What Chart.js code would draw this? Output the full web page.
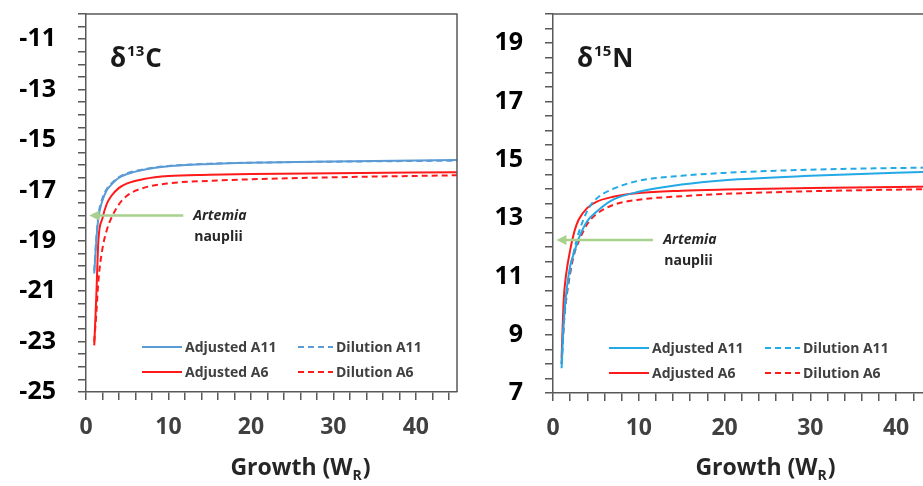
<!DOCTYPE html>
<html>
<head>
<meta charset="utf-8">
<script src="https://cdn.jsdelivr.net/npm/chart.js@4.4.1/dist/chart.umd.min.js"></script>
<style>
  html, body { margin: 0; padding: 0; background: #fff; overflow: hidden; }
  body { width: 923px; height: 486px; position: relative; }
  .panel { position: absolute; top: 0; }
  #left { left: 0; }
  #right { left: 470px; }
</style>
</head>
<body>
<div class="panel" id="left"><canvas id="chartC" width="470" height="486"></canvas></div>
<div class="panel" id="right"><canvas id="chartN" width="480" height="486"></canvas></div>
<script>
// growth (W_R) values where the curves were read
const growth = [1, 1.25, 1.5, 2, 2.5, 3, 4, 5, 7, 10, 15, 20, 30, 45];

// delta 13C panel
const adjA11C = [-20.3, -19.0, -18.1, -17.4, -17.0, -16.8, -16.5, -16.35, -16.18, -16.04, -15.95, -15.9, -15.85, -15.79];
const dilA11C = [-20.2, -18.9, -18.0, -17.3, -16.95, -16.75, -16.47, -16.32, -16.16, -16.03, -15.94, -15.9, -15.86, -15.82];
const adjA6C = [-23.15, -21.2, -19.0, -18.1, -17.55, -17.25, -16.9, -16.72, -16.55, -16.43, -16.38, -16.35, -16.32, -16.28];
const dilA6C = [-23.0, -21.9, -20.6, -19.3, -18.6, -18.15, -17.55, -17.2, -16.9, -16.72, -16.62, -16.56, -16.48, -16.4];

// delta 15N panel
const adjA11N = [7.85, 9.4, 10.3, 11.35, 11.85, 12.3, 12.9, 13.2, 13.63, 13.9, 14.15, 14.3, 14.45, 14.6];
const dilA11N = [8.0, 9.4, 10.2, 11.2, 11.95, 12.5, 13.25, 13.65, 14.0, 14.28, 14.45, 14.55, 14.66, 14.74];
const adjA6N = [8.2, 10.2, 11.0, 11.9, 12.55, 12.95, 13.35, 13.55, 13.73, 13.86, 13.94, 13.98, 14.03, 14.08];
const dilA6N = [8.0, 9.3, 10.1, 11.1, 11.8, 12.2, 12.8, 13.12, 13.45, 13.63, 13.75, 13.83, 13.92, 14.0];

const seriesNames = ['Adjusted A11', 'Dilution A11', 'Adjusted A6', 'Dilution A6'];
const xLabels = [0, 10, 20, 30, 40];

const FONT = '"Open Sans", Lato, sans-serif';
const AXIS = '#595959';

function pts(arr) {
  return growth.map((g, i) => ({ x: g, y: arr[i] }));
}

function makeDatasets(series, blue) {
  const red = '#ff1a1a';
  const cols = [blue, blue, red, red];
  return series.map((arr, i) => ({
    label: seriesNames[i],
    data: pts(arr),
    borderColor: cols[i],
    borderWidth: 2,
    borderDash: i % 2 ? [6, 4] : [],
    pointRadius: 0,
    cubicInterpolationMode: 'monotone',
    fill: false
  }));
}

// frame, panel label, arrow note, legend and x title
const decorPlugin = {
  id: 'decor',
  afterDatasetsDraw(chart, args, opts) {
    const { ctx, chartArea: a } = chart;
    const x = chart.scales.x, y = chart.scales.y;
    ctx.save();

    // top and right frame
    ctx.strokeStyle = AXIS;
    ctx.lineWidth = 1.5;
    ctx.beginPath();
    ctx.moveTo(a.left, a.top);
    ctx.lineTo(a.right, a.top);
    ctx.lineTo(a.right, a.bottom);
    ctx.stroke();

    // panel label like δ13C
    ctx.fillStyle = '#1a1a1a';
    ctx.textBaseline = 'alphabetic';
    ctx.textAlign = 'left';
    let px = a.left + 24, py = a.top + 53;
    ctx.font = 'bold 26px ' + FONT;
    ctx.fillText('δ', px, py);
    px += ctx.measureText('δ').width + 1;
    ctx.font = 'bold 15px ' + FONT;
    ctx.fillText(opts.sup, px, py - 11);
    px += ctx.measureText(opts.sup).width + 1;
    ctx.font = 'bold 26px ' + FONT;
    ctx.fillText(opts.elem, px, py);

    // green arrow pointing at the Artemia value
    const ay = y.getPixelForValue(opts.arrowY);
    const x0 = x.getPixelForValue(opts.arrowFrom);
    const x1 = x.getPixelForValue(opts.arrowTo);
    ctx.strokeStyle = '#a9d18e';
    ctx.fillStyle = '#a9d18e';
    ctx.lineWidth = 2.5;
    ctx.beginPath();
    ctx.moveTo(x0, ay);
    ctx.lineTo(x1 + 8, ay);
    ctx.stroke();
    ctx.beginPath();
    ctx.moveTo(x1, ay);
    ctx.lineTo(x1 + 10, ay - 5);
    ctx.lineTo(x1 + 10, ay + 5);
    ctx.closePath();
    ctx.fill();

    const tx = x.getPixelForValue(opts.noteX);
    ctx.fillStyle = '#262626';
    ctx.textBaseline = 'middle';
    ctx.font = 'italic bold 14px ' + FONT;
    ctx.fillText('Artemia', tx, ay);
    ctx.font = 'bold 14px ' + FONT;
    ctx.fillText('nauplii', tx + 1, ay + 21);

    // legend, two columns inside the plot
    chart.data.datasets.forEach((ds, i) => {
      const col = i % 2, row = Math.floor(i / 2);
      const lx = a.left + (col ? 212 : 56);
      const len = col ? 35 : 40;
      const ly = a.bottom - 45 + row * 25;
      ctx.strokeStyle = ds.borderColor;
      ctx.lineWidth = 2;
      ctx.setLineDash(ds.borderDash);
      ctx.beginPath();
      ctx.moveTo(lx, ly);
      ctx.lineTo(lx + len, ly);
      ctx.stroke();
      ctx.setLineDash([]);
      ctx.fillStyle = '#404040';
      ctx.font = 'bold 14px ' + FONT;
      ctx.textBaseline = 'middle';
      ctx.fillText(ds.label, lx + len + 3, ly + 1);
    });

    // x title with subscript
    const big = 'bold 23px ' + FONT, small = 'bold 14px ' + FONT;
    ctx.font = big;
    const w1 = ctx.measureText('Growth (W').width;
    const w3 = ctx.measureText(')').width;
    ctx.font = small;
    const w2 = ctx.measureText('R').width;
    let sx = a.left + opts.titleOffset - (w1 + w2 + w3) / 2;
    const by = chart.height - 11;
    ctx.fillStyle = '#262626';
    ctx.textBaseline = 'alphabetic';
    ctx.font = big;
    ctx.fillText('Growth (W', sx, by);
    ctx.font = small;
    ctx.fillText('R', sx + w1, by + 5);
    ctx.font = big;
    ctx.fillText(')', sx + w1 + w2 + 1, by);

    ctx.restore();
  }
};

function makeChart(id, series, blue, yMin, yMax, yw, xh, padRight, deco) {
  return new Chart(document.getElementById(id).getContext('2d'), {
    type: 'line',
    data: { datasets: makeDatasets(series, blue) },
    options: {
      responsive: false,
      animation: false,
      layout: { padding: { top: 14, right: padRight, left: 0, bottom: 0 } },
      plugins: {
        legend: { display: false },
        tooltip: { enabled: false },
        decor: deco
      },
      scales: {
        x: {
          type: 'linear',
          min: 0,
          max: 45,
          afterFit: s => { s.height = xh; s.paddingLeft = 0; s.paddingRight = 0; },
          border: { display: true, color: AXIS, width: 1.5 },
          grid: { drawOnChartArea: false, drawTicks: true, tickLength: 8, color: AXIS, lineWidth: 1.5 },
          ticks: {
            stepSize: 2,
            includeBounds: false,
            autoSkip: false,
            maxRotation: 0,
            padding: 14,
            color: '#404040',
            font: { family: FONT, size: 23, weight: 'bold' },
            callback: v => xLabels.includes(v) ? String(v) : ''
          }
        },
        y: {
          min: yMin,
          max: yMax,
          afterFit: s => { s.width = yw; s.paddingTop = 0; s.paddingBottom = 0; },
          border: { display: true, color: AXIS, width: 1.5 },
          grid: { drawOnChartArea: false, drawTicks: true, tickLength: 8, color: AXIS, lineWidth: 1.5 },
          ticks: {
            stepSize: 0.5,
            autoSkip: false,
            padding: 22,
            color: '#000',
            font: { family: FONT, size: 25, weight: 'bold' },
            callback: v => (Number.isInteger(v) && Math.abs(v) % 2 === 1 && v < yMax) ? String(v) : ''
          }
        }
      }
    },
    plugins: [decorPlugin]
  });
}

makeChart('chartC', [adjA11C, dilA11C, adjA6C, dilA6C], '#5b9bd5', -25, -10, 86, 94, 13,
  { sup: '13', elem: 'C', arrowY: -18, arrowFrom: 11.8, arrowTo: 0.4, noteX: 13.0, titleOffset: 214 });

makeChart('chartN', [adjA11N, dilA11N, adjA6N, dilA6N], '#22a9e6', 7, 20, 83, 93, 11,
  { sup: '15', elem: 'N', arrowY: 12.25, arrowFrom: 11.65, arrowTo: 0.4, noteX: 12.85, titleOffset: 212 });
</script>
</body>
</html>
